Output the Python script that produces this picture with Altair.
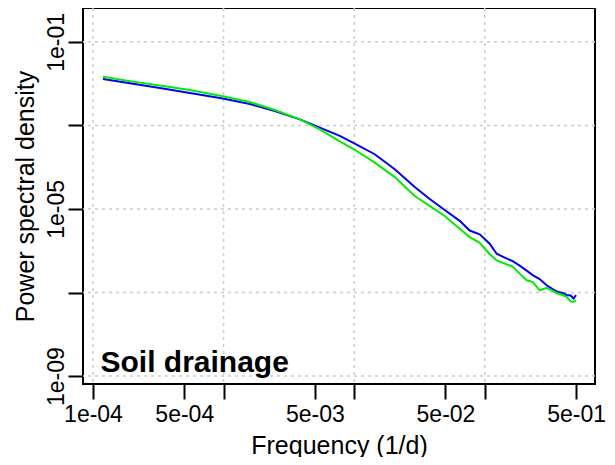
import altair as alt
import pandas as pd

# Frequencies (1/d) and spectral density of the two series
freq = [1.192e-4, 1.919e-4, 3.255e-4, 5.525e-4, 9.876e-4, 1.589e-3, 2.469e-3, 3.835e-3,
        5.455e-3, 7.760e-3, 1.011e-2, 1.437e-2, 2.045e-2, 2.908e-2, 3.789e-2, 4.933e-2,
        6.427e-2, 7.664e-2, 9.142e-2, 0.1090, 0.1233, 0.1420, 0.1635, 0.1849, 0.2092,
        0.2325, 0.2630, 0.2976, 0.3308, 0.3613, 0.3945, 0.4232, 0.4541, 0.4788, 0.5000]
psd_blue = [1.294e-2, 1.016e-2, 7.816e-3, 5.94e-3, 4.395e-3, 3.25e-3, 2.213e-3, 1.390e-3,
            8.81e-4, 5.62e-4, 3.66e-4, 2.04e-4, 8.96e-5, 3.34e-5, 1.73e-5, 9.46e-6,
            5.18e-6, 3.04e-6, 2.47e-6, 1.47e-6, 8.49e-7, 6.81e-7, 5.62e-7, 4.39e-7, 3.34e-7,
            2.61e-7, 2.10e-7, 1.49e-7, 1.21e-7, 1.04e-7, 9.73e-8, 8.71e-8, 8.49e-8, 7.19e-8, 8.63e-8]
psd_green = [1.468e-2, 1.148e-2, 8.96e-3, 7.00e-3, 4.99e-3, 3.63e-3, 2.34e-3, 1.390e-3,
             8.03e-4, 4.16e-4, 2.61e-4, 1.28e-4, 5.78e-5, 2.04e-5, 1.18e-5, 6.81e-6,
             3.34e-6, 2.12e-6, 1.55e-6, 8.26e-7, 5.87e-7, 4.90e-7, 4.16e-7, 2.83e-7, 1.96e-7,
             1.80e-7, 1.13e-7, 1.29e-7, 1.09e-7, 9.46e-8, 8.71e-8, 7.91e-8, 6.11e-8, 5.94e-8, 6.56e-8]

x_ticks = [1e-4, 5e-4, 1e-3, 5e-3, 1e-2, 5e-2, 1e-1, 5e-1]
x_tick_labels = ["1e-04", "5e-04", "", "5e-03", "", "5e-02", "", "5e-01"]
y_ticks = [1e-1, 1e-3, 1e-5, 1e-7, 1e-9]
y_tick_labels = ["1e-01", "", "1e-05", "", "1e-09"]
x_grid = [1e-4, 1e-3, 1e-2, 1e-1]
y_grid = [1e-1, 1e-3, 1e-5, 1e-7, 1e-9]
x_domain = [8.385e-5, 0.6982]
y_domain = [6.457e-10, 0.6457]
panel_label = "Soil drainage"
x_title = "Frequency (1/d)"
y_title = "Power spectral density"

FONT = "Liberation Sans"


def label_expr(vals, labels):
    parts = [f"abs(datum.value / {v!r} - 1) < 1e-6 ? '{l}'" for v, l in zip(vals, labels)]
    return " : ".join(parts) + " : ''"


xs = alt.Scale(type="log", domain=x_domain, nice=False, zero=False)
ys = alt.Scale(type="log", domain=y_domain, nice=False, zero=False)

x_axis = alt.Axis(values=x_ticks, labelExpr=label_expr(x_ticks, x_tick_labels),
                  title=x_title, grid=False, domain=False, ticks=True, tickSize=15,
                  tickWidth=2, tickColor="black", labelOverlap=False, labelFlush=False,
                  labelFontSize=23, labelPadding=4, labelColor="black",
                  titleFontSize=25, titleFontWeight="normal", titleColor="black",
                  titleBaseline="alphabetic", titleY=69)
y_axis = alt.Axis(values=y_ticks, labelExpr=label_expr(y_ticks, y_tick_labels),
                  title=y_title, grid=False, domain=False, ticks=True, tickSize=15,
                  tickWidth=2, tickColor="black", labelOverlap=False, labelFlush=False,
                  labelAngle=270, labelAlign="center", labelBaseline="alphabetic",
                  labelFontSize=23, labelPadding=4.5, labelColor="black",
                  titleFontSize=25, titleFontWeight="normal", titleColor="black",
                  titleBaseline="alphabetic", titleX=-50)

df = pd.DataFrame({"freq": freq, "blue": psd_blue, "green": psd_green})

grid_x = alt.Chart(pd.DataFrame({"g": x_grid})).mark_rule(
    color="#cccccc", strokeDash=[3, 4], strokeWidth=1.5
).encode(x=alt.X("g:Q", scale=xs, axis=x_axis))

grid_y = alt.Chart(pd.DataFrame({"g": y_grid})).mark_rule(
    color="#cccccc", strokeDash=[3, 4], strokeWidth=1.5
).encode(y=alt.Y("g:Q", scale=ys, axis=y_axis))

line_blue = alt.Chart(df).mark_line(color="#0000ff", strokeWidth=2, clip=True).encode(
    x=alt.X("freq:Q", scale=xs, axis=x_axis),
    y=alt.Y("blue:Q", scale=ys, axis=y_axis),
)
line_green = alt.Chart(df).mark_line(color="#00ee00", strokeWidth=2, clip=True).encode(
    x=alt.X("freq:Q", scale=xs, axis=x_axis),
    y=alt.Y("green:Q", scale=ys, axis=y_axis),
)

label = alt.Chart(pd.DataFrame({"t": [panel_label]})).mark_text(
    align="left", baseline="alphabetic", fontSize=30, fontWeight="bold",
    font=FONT, color="black"
).encode(x=alt.value(17.5), y=alt.value(364), text="t:N")

chart = alt.layer(grid_x, grid_y, line_blue, line_green, label).properties(
    width=512, height=376,
    autosize=alt.AutoSizeParams(type="none"),
    padding={"left": 75, "top": 0, "right": 12, "bottom": 73},
).configure(font=FONT).configure_view(
    stroke="black", strokeWidth=2
).configure_axis(labelFont=FONT, titleFont=FONT)

chart.save("out.html", embed_options={"renderer": "svg", "actions": False})
